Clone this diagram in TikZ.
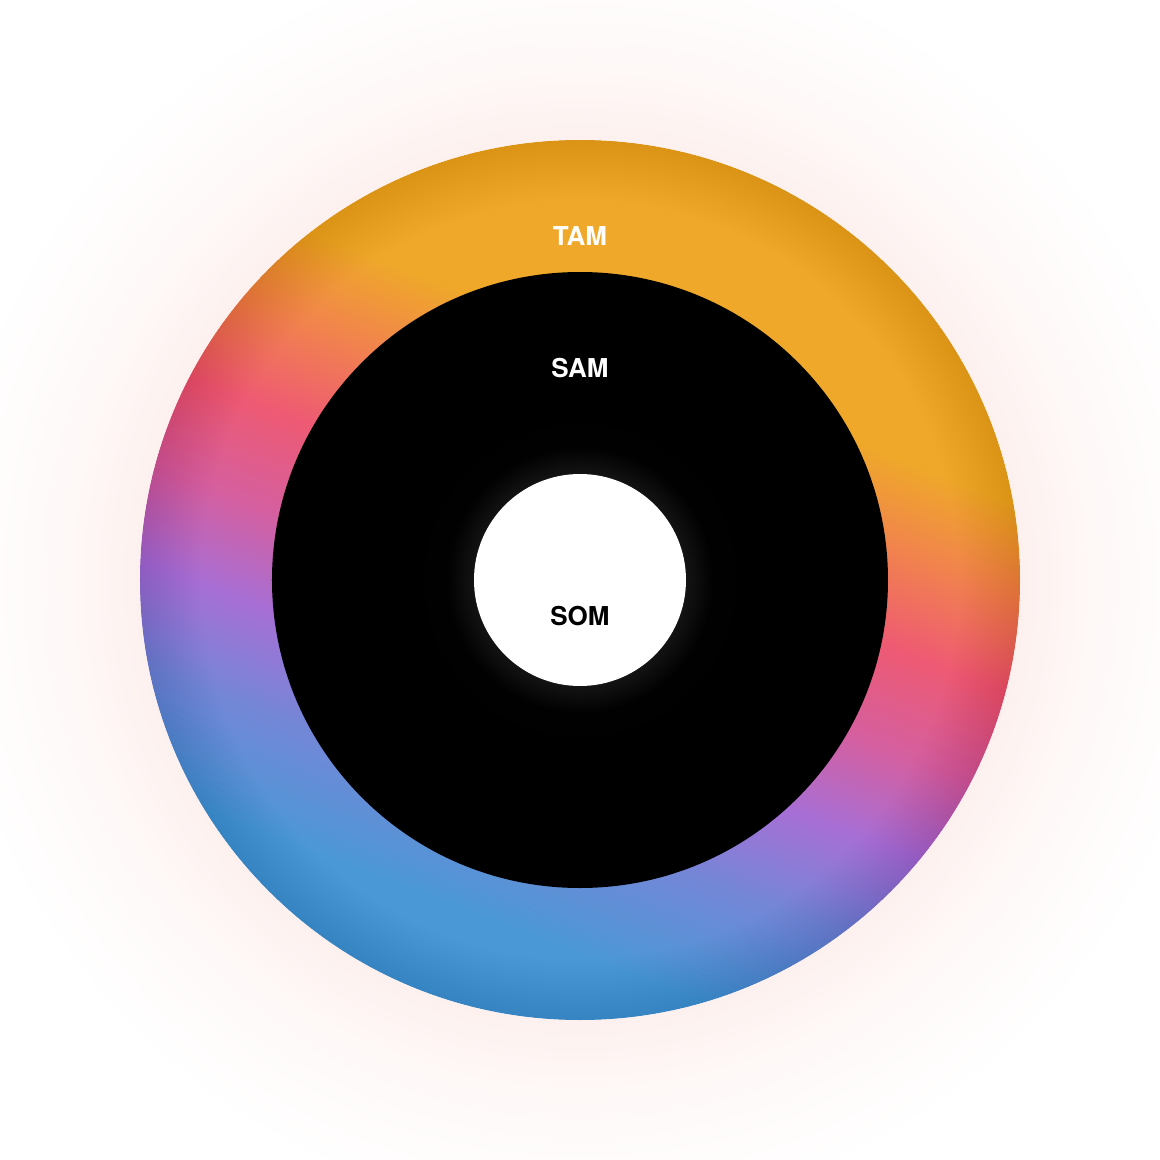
\documentclass[tikz,border=0pt]{standalone}
\usepackage{fontspec}
\setmainfont{TeX Gyre Heros}
\usetikzlibrary{calc}

\definecolor{ringblue}{RGB}{75,152,214}
\definecolor{ringperi}{RGB}{115,135,215}
\definecolor{ringpurple}{RGB}{166,111,214}
\definecolor{ringmagenta}{RGB}{212,95,160}
\definecolor{ringpink}{RGB}{238,90,115}
\definecolor{ringcoral}{RGB}{241,130,78}
\definecolor{ringorange}{RGB}{239,168,42}
\definecolor{halopink}{RGB}{253,241,239}
\definecolor{halomid}{RGB}{254,248,247}
\definecolor{glowgray}{RGB}{19,19,19}

\pgfdeclareverticalshading{ringshade}{100bp}{color(0bp)=(ringblue); color(30bp)=(ringblue);
  color(36.4bp)=(ringperi); color(41.9bp)=(ringpurple); color(47.2bp)=(ringmagenta);
  color(52.8bp)=(ringpink); color(58bp)=(ringcoral); color(63bp)=(ringorange); color(100bp)=(ringorange)}
\pgfdeclareradialshading{halo}{\pgfpointorigin}{color(0bp)=(halopink); color(17.2bp)=(halopink);
  color(20bp)=(halomid); color(25bp)=(white); color(50bp)=(white)}
\pgfdeclareradialshading{somglow}{\pgfpointorigin}{color(0bp)=(glowgray); color(15.2bp)=(glowgray);
  color(19bp)=(black!94!glowgray); color(25bp)=(black); color(50bp)=(black)}

\begin{document}
\begin{tikzpicture}[x=1pt, y=1pt, font=\fontsize{26}{30}\selectfont\bfseries]

\useasboundingbox (-580,-580) rectangle (580,580);
\fill[white] (-580,-580) rectangle (580,580);
\shade[shading=halo] (0,0) circle (640pt);

% TAM ring
\shade[shading=ringshade, shading angle=-21] (0,0) circle (440pt);
\foreach \r in {380,383,...,437}
  \fill[black, opacity=0.0055, even odd rule] (0,0) circle (\r pt) circle (440pt);

% SAM and SOM
\fill[black] (0,0) circle (308pt);
\shade[shading=somglow] (0,0) circle (175pt);
\fill[white] (0,0) circle (106pt);

\node[text=white] (tam) at (0,344) {TAM};
\node[text=white] (sam) at (0,212) {SAM};
\node[text=black] (som) at (0,-36) {SOM};

\end{tikzpicture}
\end{document}
